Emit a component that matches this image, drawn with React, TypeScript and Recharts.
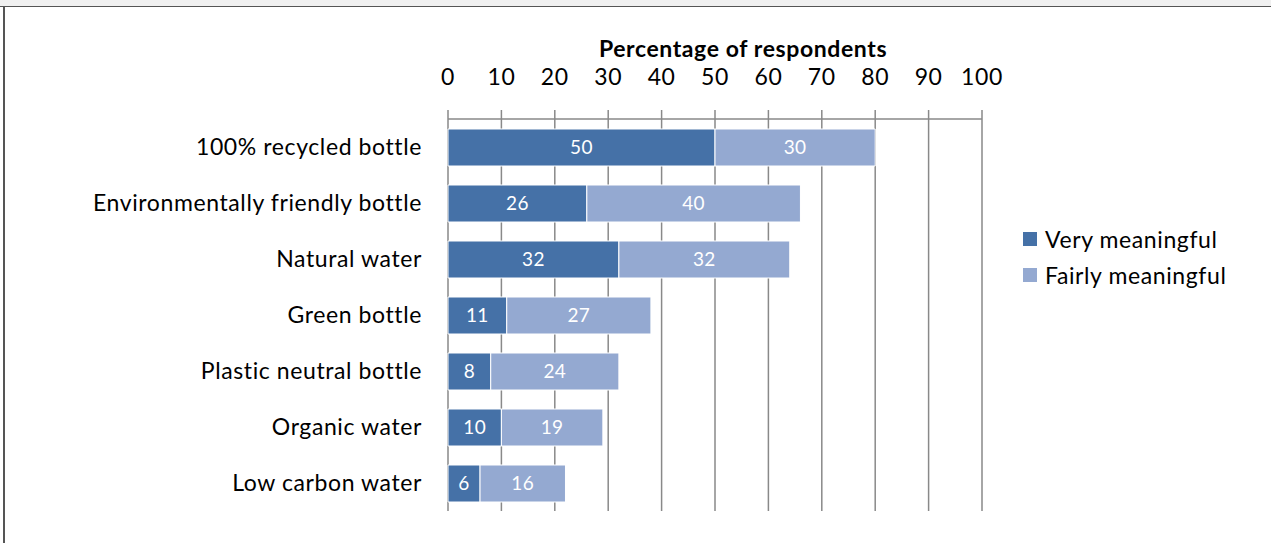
import { BarChart, Bar, XAxis, YAxis, CartesianGrid, LabelList } from 'recharts';

// Survey: how meaningful each bottled-water claim is to respondents (%)
const categories = [
  '100% recycled bottle',
  'Environmentally friendly bottle',
  'Natural water',
  'Green bottle',
  'Plastic neutral bottle',
  'Organic water',
  'Low carbon water',
];
const veryMeaningful = [50, 26, 32, 11, 8, 10, 6];
const fairlyMeaningful = [30, 40, 32, 27, 24, 19, 16];
const percentTicks = [0, 10, 20, 30, 40, 50, 60, 70, 80, 90, 100];
// boundaries between category rows, used for the left-hand tick marks
const rowEdges = [0, 1, 2, 3, 4, 5, 6, 7];

const series = [
  { key: 'very', name: 'Very meaningful', color: '#4571A7' },
  { key: 'fairly', name: 'Fairly meaningful', color: '#94A9D1' },
];

const data = categories.map((name, i) => ({
  name,
  very: veryMeaningful[i],
  fairly: fairlyMeaningful[i],
}));

const FONT = 'Lato, "Open Sans", sans-serif';
const AXIS_GRAY = '#898989';
const TEXT_STYLE = { fill: '#000', fontSize: 23, fontFamily: FONT, letterSpacing: 0.6 };

export default function App() {
  return (
    <div
      style={{
        position: 'absolute',
        left: 0,
        top: 0,
        width: 1271,
        height: 543,
        background: '#fff',
        fontFamily: FONT,
        overflow: 'hidden',
      }}
    >
      {/* window frame */}
      <div style={{ position: 'absolute', left: 0, top: 0, width: 1271, height: 6, background: '#f0f0f0', borderBottom: '1px solid #555' }} />
      <div style={{ position: 'absolute', left: 3, top: 6, width: 2, height: 537, background: '#555' }} />

      <div style={{ position: 'absolute', left: 0, top: 0 }}>
        <BarChart
          width={1271}
          height={543}
          data={data}
          layout="vertical"
          barSize={37}
          margin={{ top: 79, right: 289, bottom: 32, left: 8 }}
        >
          <CartesianGrid
            horizontal={false}
            vertical
            stroke={AXIS_GRAY}
            strokeWidth={1.5}
          />
          <XAxis
            type="number"
            orientation="top"
            domain={[0, 100]}
            ticks={percentTicks}
            interval={0}
            height={40}
            tickSize={9}
            tickMargin={25}
            axisLine={{ stroke: AXIS_GRAY, strokeWidth: 1.5 }}
            tickLine={{ stroke: AXIS_GRAY, strokeWidth: 1.5 }}
            tick={TEXT_STYLE}
            label={{
              value: 'Percentage of respondents',
              position: 'top',
              offset: 22,
              dx: 28,
              fill: '#000',
              fontSize: 23,
              fontWeight: 'bold',
              fontFamily: FONT,
              letterSpacing: 0.6,
            }}
          />
          <YAxis
            yAxisId="edges"
            type="number"
            orientation="left"
            domain={[0, 7]}
            ticks={rowEdges}
            interval={0}
            width={0}
            tickSize={9}
            tick={false}
            axisLine={{ stroke: AXIS_GRAY, strokeWidth: 1.5 }}
            tickLine={{ stroke: AXIS_GRAY, strokeWidth: 1.5 }}
          />
          <YAxis
            type="category"
            dataKey="name"
            width={440}
            interval={0}
            tickSize={0}
            tickMargin={26}
            axisLine={false}
            tickLine={false}
            tick={TEXT_STYLE}
          />
          {series.map((s) => (
            <Bar
              key={s.key}
              dataKey={s.key}
              name={s.name}
              stackId="total"
              fill={s.color}
              stroke="#fff"
              strokeWidth={1}
              isAnimationActive={false}
            >
              <LabelList
                dataKey={s.key}
                position="center"
                fill="#fff"
                fontSize={19}
                fontFamily={FONT}
                letterSpacing={0.4}
              />
            </Bar>
          ))}
        </BarChart>
      </div>

      {/* legend */}
      <div style={{ position: 'absolute', left: 1023, top: 221 }}>
        {series.map((s) => (
          <div key={s.key} style={{ display: 'flex', alignItems: 'center', height: 36 }}>
            <span style={{ width: 14, height: 14, background: s.color, marginRight: 8 }} />
            <span style={{ fontSize: 23, letterSpacing: 0.6, color: '#000' }}>{s.name}</span>
          </div>
        ))}
      </div>
    </div>
  );
}
